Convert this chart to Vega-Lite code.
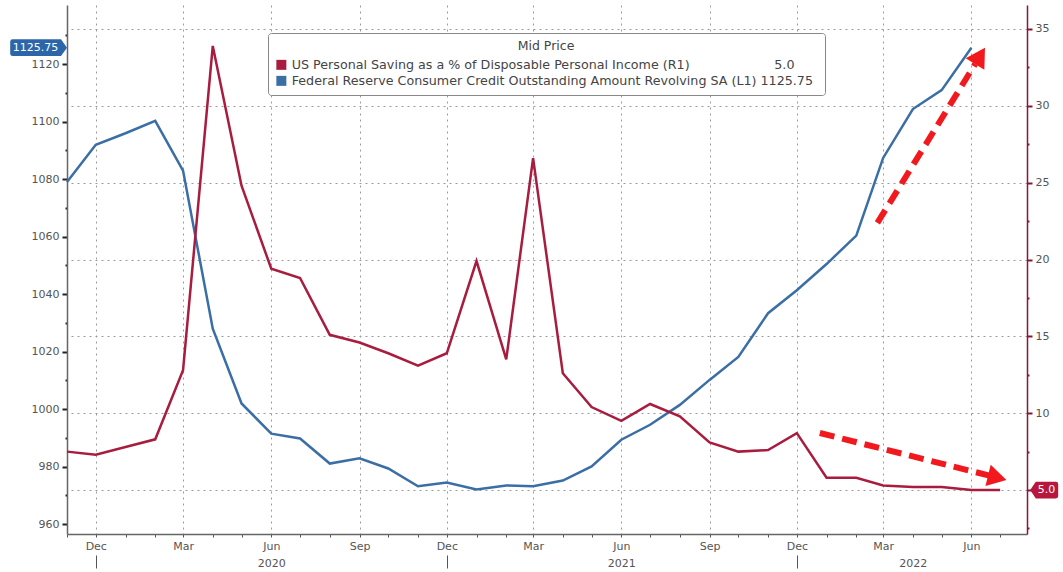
{
  "$schema": "https://vega.github.io/schema/vega-lite/v6.json",
  "width": 960,
  "height": 529,
  "autosize": {"type": "none"},
  "padding": {"left": 67, "top": 5, "right": 36, "bottom": 38},
  "background": "#ffffff",
  "config": {"view": {"stroke": null}, "font": "DejaVu Sans"},
  "datasets": {
    "saving": [
      {"date": "2019-11-01", "series": "US Personal Saving as a % of Disposable Personal Income  (R1)", "value": 7.5},
      {"date": "2019-12-01", "series": "US Personal Saving as a % of Disposable Personal Income  (R1)", "value": 7.3},
      {"date": "2020-01-01", "series": "US Personal Saving as a % of Disposable Personal Income  (R1)", "value": 7.8},
      {"date": "2020-02-01", "series": "US Personal Saving as a % of Disposable Personal Income  (R1)", "value": 8.3},
      {"date": "2020-03-01", "series": "US Personal Saving as a % of Disposable Personal Income  (R1)", "value": 12.8},
      {"date": "2020-04-01", "series": "US Personal Saving as a % of Disposable Personal Income  (R1)", "value": 33.9},
      {"date": "2020-05-01", "series": "US Personal Saving as a % of Disposable Personal Income  (R1)", "value": 24.8},
      {"date": "2020-06-01", "series": "US Personal Saving as a % of Disposable Personal Income  (R1)", "value": 19.4},
      {"date": "2020-07-01", "series": "US Personal Saving as a % of Disposable Personal Income  (R1)", "value": 18.8},
      {"date": "2020-08-01", "series": "US Personal Saving as a % of Disposable Personal Income  (R1)", "value": 15.1},
      {"date": "2020-09-01", "series": "US Personal Saving as a % of Disposable Personal Income  (R1)", "value": 14.6},
      {"date": "2020-10-01", "series": "US Personal Saving as a % of Disposable Personal Income  (R1)", "value": 13.9},
      {"date": "2020-11-01", "series": "US Personal Saving as a % of Disposable Personal Income  (R1)", "value": 13.1},
      {"date": "2020-12-01", "series": "US Personal Saving as a % of Disposable Personal Income  (R1)", "value": 13.9},
      {"date": "2021-01-01", "series": "US Personal Saving as a % of Disposable Personal Income  (R1)", "value": 19.9},
      {"date": "2021-02-01", "series": "US Personal Saving as a % of Disposable Personal Income  (R1)", "value": 13.5},
      {"date": "2021-03-01", "series": "US Personal Saving as a % of Disposable Personal Income  (R1)", "value": 26.6},
      {"date": "2021-04-01", "series": "US Personal Saving as a % of Disposable Personal Income  (R1)", "value": 12.6},
      {"date": "2021-05-01", "series": "US Personal Saving as a % of Disposable Personal Income  (R1)", "value": 10.4},
      {"date": "2021-06-01", "series": "US Personal Saving as a % of Disposable Personal Income  (R1)", "value": 9.5},
      {"date": "2021-07-01", "series": "US Personal Saving as a % of Disposable Personal Income  (R1)", "value": 10.6},
      {"date": "2021-08-01", "series": "US Personal Saving as a % of Disposable Personal Income  (R1)", "value": 9.8},
      {"date": "2021-09-01", "series": "US Personal Saving as a % of Disposable Personal Income  (R1)", "value": 8.1},
      {"date": "2021-10-01", "series": "US Personal Saving as a % of Disposable Personal Income  (R1)", "value": 7.5},
      {"date": "2021-11-01", "series": "US Personal Saving as a % of Disposable Personal Income  (R1)", "value": 7.6},
      {"date": "2021-12-01", "series": "US Personal Saving as a % of Disposable Personal Income  (R1)", "value": 8.7},
      {"date": "2022-01-01", "series": "US Personal Saving as a % of Disposable Personal Income  (R1)", "value": 5.8},
      {"date": "2022-02-01", "series": "US Personal Saving as a % of Disposable Personal Income  (R1)", "value": 5.8},
      {"date": "2022-03-01", "series": "US Personal Saving as a % of Disposable Personal Income  (R1)", "value": 5.3},
      {"date": "2022-04-01", "series": "US Personal Saving as a % of Disposable Personal Income  (R1)", "value": 5.2},
      {"date": "2022-05-01", "series": "US Personal Saving as a % of Disposable Personal Income  (R1)", "value": 5.2},
      {"date": "2022-06-01", "series": "US Personal Saving as a % of Disposable Personal Income  (R1)", "value": 5.0},
      {"date": "2022-07-01", "series": "US Personal Saving as a % of Disposable Personal Income  (R1)", "value": 5.0}
    ],
    "credit": [
      {"date": "2019-11-01", "series": "Federal Reserve Consumer Credit Outstanding Amount Revolving SA  (L1)", "value": 1079},
      {"date": "2019-12-01", "series": "Federal Reserve Consumer Credit Outstanding Amount Revolving SA  (L1)", "value": 1092},
      {"date": "2020-01-01", "series": "Federal Reserve Consumer Credit Outstanding Amount Revolving SA  (L1)", "value": 1096},
      {"date": "2020-02-01", "series": "Federal Reserve Consumer Credit Outstanding Amount Revolving SA  (L1)", "value": 1100.3},
      {"date": "2020-03-01", "series": "Federal Reserve Consumer Credit Outstanding Amount Revolving SA  (L1)", "value": 1083},
      {"date": "2020-04-01", "series": "Federal Reserve Consumer Credit Outstanding Amount Revolving SA  (L1)", "value": 1028},
      {"date": "2020-05-01", "series": "Federal Reserve Consumer Credit Outstanding Amount Revolving SA  (L1)", "value": 1002},
      {"date": "2020-06-01", "series": "Federal Reserve Consumer Credit Outstanding Amount Revolving SA  (L1)", "value": 991.5},
      {"date": "2020-07-01", "series": "Federal Reserve Consumer Credit Outstanding Amount Revolving SA  (L1)", "value": 989.8},
      {"date": "2020-08-01", "series": "Federal Reserve Consumer Credit Outstanding Amount Revolving SA  (L1)", "value": 981.1},
      {"date": "2020-09-01", "series": "Federal Reserve Consumer Credit Outstanding Amount Revolving SA  (L1)", "value": 982.9},
      {"date": "2020-10-01", "series": "Federal Reserve Consumer Credit Outstanding Amount Revolving SA  (L1)", "value": 979.4},
      {"date": "2020-11-01", "series": "Federal Reserve Consumer Credit Outstanding Amount Revolving SA  (L1)", "value": 973.2},
      {"date": "2020-12-01", "series": "Federal Reserve Consumer Credit Outstanding Amount Revolving SA  (L1)", "value": 974.5},
      {"date": "2021-01-01", "series": "Federal Reserve Consumer Credit Outstanding Amount Revolving SA  (L1)", "value": 972.1},
      {"date": "2021-02-01", "series": "Federal Reserve Consumer Credit Outstanding Amount Revolving SA  (L1)", "value": 973.5},
      {"date": "2021-03-01", "series": "Federal Reserve Consumer Credit Outstanding Amount Revolving SA  (L1)", "value": 973.2},
      {"date": "2021-04-01", "series": "Federal Reserve Consumer Credit Outstanding Amount Revolving SA  (L1)", "value": 975.2},
      {"date": "2021-05-01", "series": "Federal Reserve Consumer Credit Outstanding Amount Revolving SA  (L1)", "value": 980.1},
      {"date": "2021-06-01", "series": "Federal Reserve Consumer Credit Outstanding Amount Revolving SA  (L1)", "value": 989.4},
      {"date": "2021-07-01", "series": "Federal Reserve Consumer Credit Outstanding Amount Revolving SA  (L1)", "value": 994.6},
      {"date": "2021-08-01", "series": "Federal Reserve Consumer Credit Outstanding Amount Revolving SA  (L1)", "value": 1001.5},
      {"date": "2021-09-01", "series": "Federal Reserve Consumer Credit Outstanding Amount Revolving SA  (L1)", "value": 1010.2},
      {"date": "2021-10-01", "series": "Federal Reserve Consumer Credit Outstanding Amount Revolving SA  (L1)", "value": 1018.2},
      {"date": "2021-11-01", "series": "Federal Reserve Consumer Credit Outstanding Amount Revolving SA  (L1)", "value": 1033.4},
      {"date": "2021-12-01", "series": "Federal Reserve Consumer Credit Outstanding Amount Revolving SA  (L1)", "value": 1041.4},
      {"date": "2022-01-01", "series": "Federal Reserve Consumer Credit Outstanding Amount Revolving SA  (L1)", "value": 1050.5},
      {"date": "2022-02-01", "series": "Federal Reserve Consumer Credit Outstanding Amount Revolving SA  (L1)", "value": 1060.4},
      {"date": "2022-03-01", "series": "Federal Reserve Consumer Credit Outstanding Amount Revolving SA  (L1)", "value": 1087.4},
      {"date": "2022-04-01", "series": "Federal Reserve Consumer Credit Outstanding Amount Revolving SA  (L1)", "value": 1104.4},
      {"date": "2022-05-01", "series": "Federal Reserve Consumer Credit Outstanding Amount Revolving SA  (L1)", "value": 1111},
      {"date": "2022-06-01", "series": "Federal Reserve Consumer Credit Outstanding Amount Revolving SA  (L1)", "value": 1125.75}
    ],
    "credit_last": [{"date": "2019-11-01", "value": 1125.75, "label": "1125.75"}],
    "saving_last": [{"date": "2022-07-29", "value": 5.0, "label": "5.0"}],
    "credit_trend": [{"date": "2022-02-23", "value": 1064.8, "date2": "2022-06-05", "value2": 1120.1}],
    "credit_trend_head": [{"date": "2022-06-10", "value": 1122.9}],
    "saving_trend": [{"date": "2021-12-25", "value": 8.71, "date2": "2022-06-21", "value2": 5.92}],
    "saving_trend_head": [{"date": "2022-06-28", "value": 5.8}],
    "legend_keys": []
  },
  "encoding": {
    "x": {
      "field": "date",
      "type": "temporal",
      "scale": {
        "type": "utc",
        "domain": [
          {"year": 2019, "month": 11, "date": 1, "utc": true},
          {"year": 2022, "month": 7, "date": 29, "utc": true}
        ]
      },
      "axis": {
        "title": null,
        "orient": "bottom",
        "tickCount": {"interval": "month", "step": 1},
        "labelExpr": "utcmonth(datum.value) == 11 ? 'Dec' : utcmonth(datum.value) == 2 ? 'Mar' : utcmonth(datum.value) == 8 ? 'Sep' : utcmonth(datum.value) == 5 ? (utcyear(datum.value) < 2022 ? ['Jun', '' + utcyear(datum.value)] : 'Jun') : (utcmonth(datum.value) == 3 && utcyear(datum.value) == 2022) ? [' ', '2022'] : ''",
        "labelOverlap": false,
        "labelFlush": false,
        "labelBound": false,
        "labelFontSize": 11,
        "labelColor": "#555555",
        "labelLineHeight": 17,
        "labelPadding": -28,
        "domainColor": "#666666",
        "domainWidth": 1.5,
        "tickColor": "#555555",
        "tickSize": 34,
        "tickWidth": 1,
        "tickDash": {"condition": {"test": "utcmonth(datum.value) == 11", "value": [3, 18, 13]}, "value": [3, 40]},
        "grid": true,
        "gridColor": "#9a9a9a",
        "gridDash": [2, 4],
        "gridWidth": 1,
        "gridOpacity": {"condition": {"test": "utcmonth(datum.value) % 3 == 2", "value": 1}, "value": 0}
      }
    }
  },
  "layer": [
    {
      "encoding": {
        "y": {
          "field": "value",
          "type": "quantitative",
          "scale": {"domain": [956.6, 1140.6], "nice": false, "zero": false},
          "axis": {
            "title": null,
            "orient": "left",
            "values": [960, 970, 980, 990, 1000, 1010, 1020, 1030, 1040, 1050, 1060, 1070, 1080, 1090, 1100, 1110, 1120, 1130],
            "format": "d",
            "labelExpr": "datum.value % 20 == 0 ? datum.label : ''",
            "labelOverlap": false,
            "labelFontSize": 11,
            "labelColor": "#555555",
            "labelPadding": 3,
            "tickSize": 5,
            "tickWidth": 2,
            "tickColor": "#222222",
            "tickDash": {"condition": {"test": "datum.value % 20 != 0", "value": [2, 10]}, "value": [6, 0]},
            "domainColor": "#666666",
            "domainWidth": 1.5,
            "grid": false
          }
        }
      },
      "layer": [
        {
          "data": {"name": "legend_keys"},
          "mark": {"type": "square", "opacity": 1},
          "encoding": {
            "color": {
              "field": "series",
              "type": "nominal",
              "scale": {
                "domain": ["US Personal Saving as a % of Disposable Personal Income  (R1)", "Federal Reserve Consumer Credit Outstanding Amount Revolving SA  (L1)"],
                "range": ["#a81d3f", "#3a6ea5"]
              },
              "legend": {
                "orient": "none",
                "legendX": 201,
                "legendY": 28,
                "direction": "vertical",
                "title": "Mid Price",
                "titleAnchor": "middle",
                "titleFontSize": 12.5,
                "titleFontWeight": "normal",
                "titleColor": "#444444",
                "titlePadding": 6,
                "labelFontSize": 12.7,
                "labelColor": "#444444",
                "labelLimit": 0,
                "labelOffset": 4,
                "labelExpr": "datum.label == 'US Personal Saving as a % of Disposable Personal Income  (R1)' ? datum.label + '\u00a0\u00a0\u00a0\u00a0\u00a0\u00a0\u00a0\u00a0\u00a0\u00a0\u00a0\u00a0\u00a0\u00a0\u00a0\u00a0\u00a0\u00a0\u00a0\u00a0\u00a05.0' : datum.label + ' 1125.75'",
                "symbolType": "square",
                "symbolSize": 100,
                "symbolStrokeWidth": 0,
                "symbolOpacity": 1,
                "strokeColor": "#888888",
                "fillColor": "#ffffff",
                "cornerRadius": 3,
                "padding": 7,
                "rowPadding": 2
              }
            }
          }
        },
        {
          "data": {"name": "credit"},
          "mark": {"type": "line", "strokeWidth": 2.5},
          "encoding": {"color": {"field": "series", "type": "nominal", "legend": null}}
        },
        {
          "data": {"name": "credit_trend"},
          "mark": {"type": "rule", "color": "#f2191e", "strokeWidth": 6, "strokeDash": [15, 8]},
          "encoding": {"x2": {"field": "date2"}, "y2": {"field": "value2"}}
        },
        {
          "data": {"name": "credit_trend_head"},
          "mark": {"type": "point", "shape": "triangle-up", "filled": true, "opacity": 1, "color": "#f2191e", "size": 480, "angle": 31.7},
          "encoding": {}
        },
        {
          "data": {"name": "credit_last"},
          "mark": {"type": "point", "shape": "M0,0 L-0.75,-1.05 L-6.8,-1.05 Q-7.1,-1.05 -7.1,-0.75 L-7.1,0.75 Q-7.1,1.05 -6.8,1.05 L-0.75,1.05 Z", "filled": true, "opacity": 1, "color": "#2d66a8", "size": 256},
          "encoding": {}
        },
        {
          "data": {"name": "credit_last"},
          "mark": {"type": "text", "color": "#ffffff", "fontSize": 11, "align": "center", "baseline": "middle", "dx": -31.5},
          "encoding": {"text": {"field": "label"}}
        }
      ]
    },
    {
      "encoding": {
        "y": {
          "field": "value",
          "type": "quantitative",
          "scale": {"domain": [2.14, 36.56], "nice": false, "zero": false},
          "axis": {
            "title": null,
            "orient": "right",
            "values": [2.5, 5, 7.5, 10, 12.5, 15, 17.5, 20, 22.5, 25, 27.5, 30, 32.5, 35],
            "format": "d",
            "labelExpr": "datum.value % 5 == 0 && datum.value != 5 ? datum.label : ''",
            "labelOverlap": false,
            "labelFontSize": 11,
            "labelColor": "#555555",
            "labelPadding": 3,
            "tickSize": 5,
            "tickWidth": 2,
            "tickColor": "#8a1538",
            "tickDash": {"condition": {"test": "datum.value % 5 != 0", "value": [2, 10]}, "value": [6, 0]},
            "domainColor": "#8a1538",
            "domainWidth": 1.5,
            "grid": true,
            "gridColor": "#9a9a9a",
            "gridDash": [2, 4],
            "gridWidth": 1,
            "gridOpacity": {"condition": {"test": "datum.value % 5 == 0", "value": 1}, "value": 0}
          }
        }
      },
      "layer": [
        {
          "data": {"name": "saving"},
          "mark": {"type": "line", "strokeWidth": 2.5},
          "encoding": {"color": {"field": "series", "type": "nominal", "legend": null}}
        },
        {
          "data": {"name": "saving_trend"},
          "mark": {"type": "rule", "color": "#f2191e", "strokeWidth": 6, "strokeDash": [15, 8]},
          "encoding": {"x2": {"field": "date2"}, "y2": {"field": "value2"}}
        },
        {
          "data": {"name": "saving_trend_head"},
          "mark": {"type": "point", "shape": "triangle-up", "filled": true, "opacity": 1, "color": "#f2191e", "size": 480, "angle": 104},
          "encoding": {}
        },
        {
          "data": {"name": "saving_last"},
          "mark": {"type": "point", "shape": "M0.4,0 L1.1,-1.05 L3.6,-1.05 Q3.9,-1.05 3.9,-0.75 L3.9,0.75 Q3.9,1.05 3.6,1.05 L1.1,1.05 Z", "filled": true, "opacity": 1, "color": "#b8163c", "size": 256},
          "encoding": {}
        },
        {
          "data": {"name": "saving_last"},
          "mark": {"type": "text", "color": "#ffffff", "fontSize": 11, "align": "center", "baseline": "middle", "dx": 19.5},
          "encoding": {"text": {"field": "label"}}
        }
      ]
    }
  ],
  "resolve": {"scale": {"y": "independent"}}
}
